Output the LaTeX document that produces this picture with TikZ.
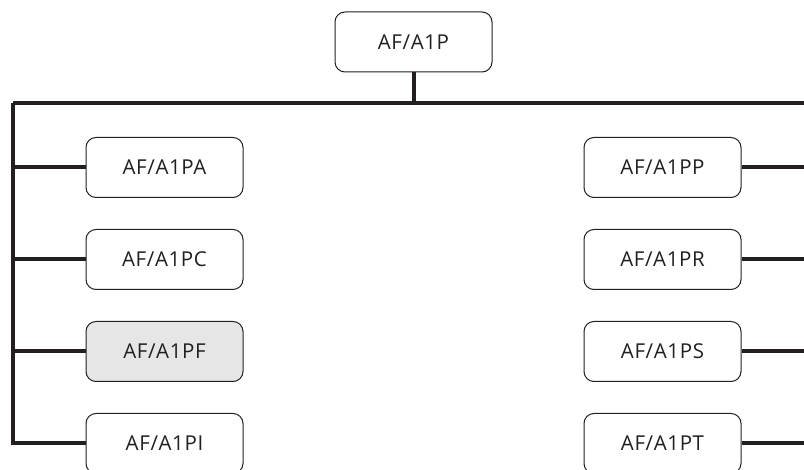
\documentclass[tikz,border=0pt]{standalone}
\usepackage{fontspec}
\setmainfont{Open Sans}
\newfontfamily\boxfont[LetterSpace=3]{Open Sans}
\definecolor{ink}{HTML}{231F20}
\definecolor{hl}{HTML}{E6E6E7}
\begin{document}
\begin{tikzpicture}[x=1pt,y=-1pt,
  box/.style={draw=ink,line width=1pt,rounded corners=10pt,fill=white,
    minimum width=157pt,minimum height=60pt,inner sep=0pt,
    font=\boxfont\fontsize{20.5}{22}\selectfont,text=ink},
  wire/.style={draw=ink,line width=4pt}]
\useasboundingbox (0,0) rectangle (804,470);
\clip (0,0) rectangle (804,470);
\node[box] (top) at (413.5,42) {AF/A1P};
\node[box] (pa) at (164.5,167.5) {AF/A1PA};
\node[box] (pc) at (164.5,259.5) {AF/A1PC};
\node[box,fill=hl] (pf) at (164.5,351.5) {AF/A1PF};
\node[box] (pi) at (164.5,443.5) {AF/A1PI};
\node[box] (pp) at (662.5,167.5) {AF/A1PP};
\node[box] (pr) at (662.5,259.5) {AF/A1PR};
\node[box] (ps) at (662.5,351.5) {AF/A1PS};
\node[box] (pt) at (662.5,443.5) {AF/A1PT};
\coordinate (bus) at (413.5,103);
\coordinate (lt) at (13,103);
\coordinate (rt) at (808,103);
\draw[wire] (top.south) -- (bus);
\draw[wire] (lt) -- (rt);
\draw[wire] (lt) |- (pi.west);
\foreach \n in {pa,pc,pf} \draw[wire] (lt |- \n.west) -- (\n.west);
\draw[wire] (rt) |- (pt.east);
\foreach \n in {pp,pr,ps} \draw[wire] (rt |- \n.east) -- (\n.east);
\end{tikzpicture}
\end{document}
